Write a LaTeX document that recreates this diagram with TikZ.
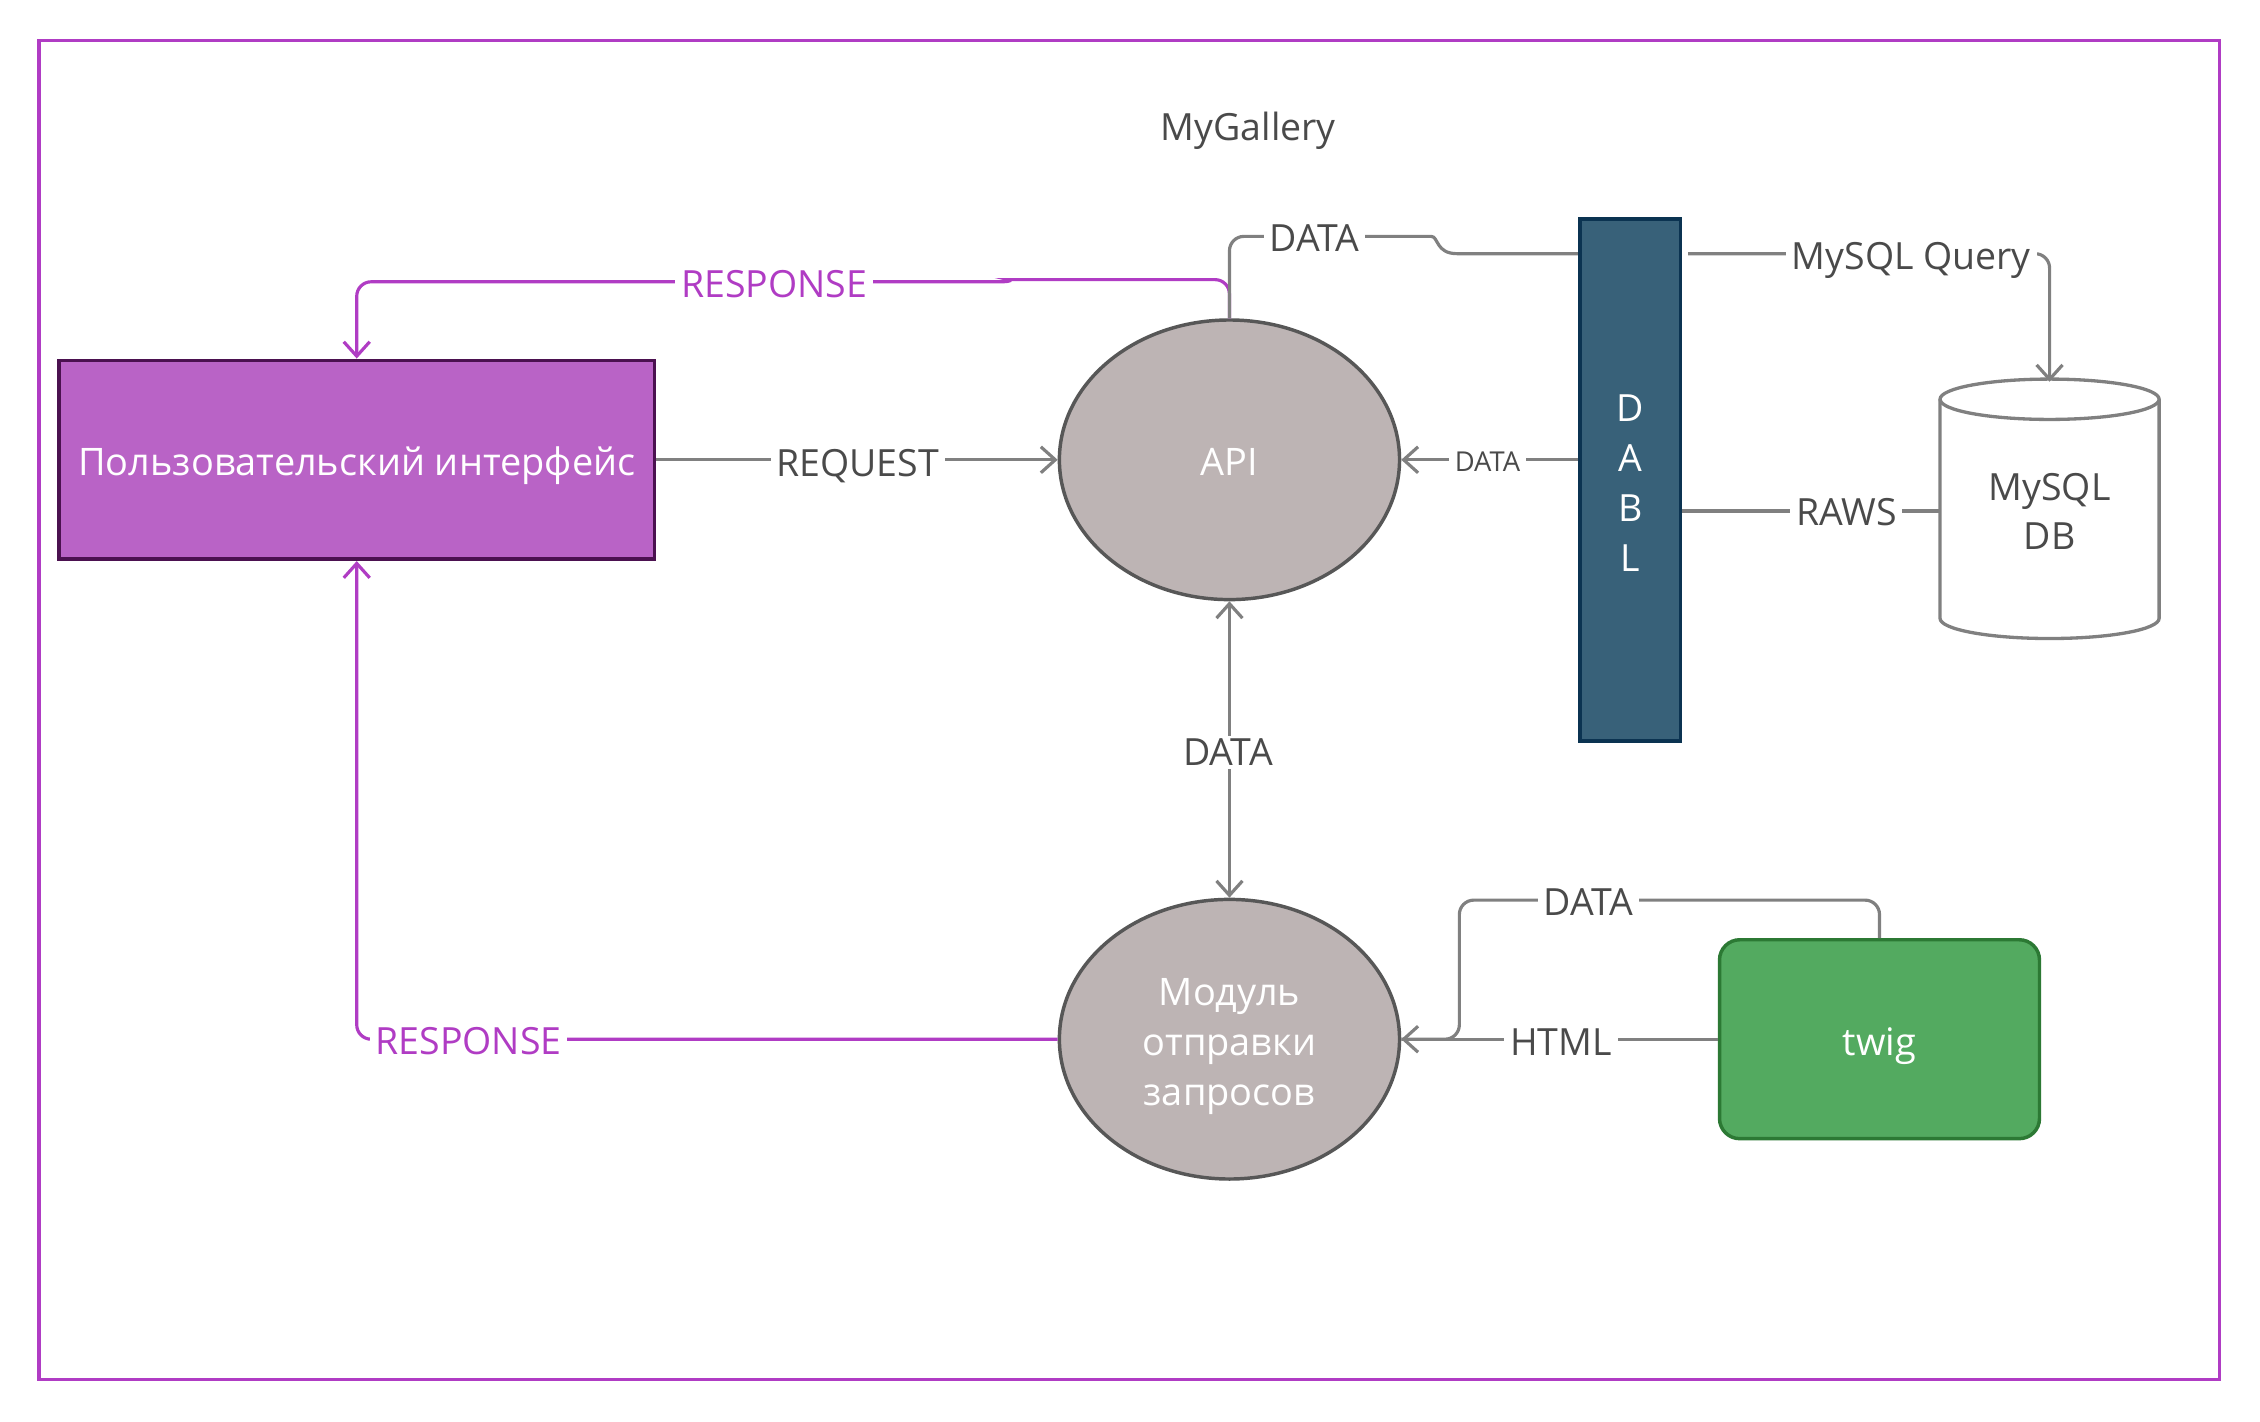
\documentclass[tikz,border=0pt]{standalone}
\usepackage{fontspec}
\setmainfont{Open Sans}
\usetikzlibrary{arrows.meta,shapes.geometric}
\definecolor{gline}{HTML}{808080}
\definecolor{gtext}{HTML}{4A4A4A}
\definecolor{purp}{HTML}{B03CC4}
\definecolor{uifill}{HTML}{B963C6}
\definecolor{uiedge}{HTML}{4B1150}
\definecolor{elfill}{HTML}{BDB4B4}
\definecolor{eledge}{HTML}{575757}
\definecolor{dablfill}{HTML}{386179}
\definecolor{dabledge}{HTML}{0B3351}
\definecolor{twigfill}{HTML}{53AA60}
\definecolor{twigedge}{HTML}{2C7934}
\tikzset{
  bigfont/.style={font=\fontsize{26.3}{34.5}\selectfont},
  onetext/.style={text height=22pt, text depth=0pt},
  uibox/.style={rectangle, draw=uiedge, fill=uifill, line width=2.5pt, minimum width=413pt, minimum height=138pt, inner sep=0pt, text=white, bigfont, onetext},
  proc/.style={ellipse, draw=eledge, fill=elfill, line width=2.4pt, minimum width=236pt, minimum height=194pt, inner sep=0pt, text=white, align=center, bigfont},
  proctext/.style={inner sep=0pt, text=white, align=center, bigfont},
  dablbox/.style={rectangle, draw=dabledge, fill=dablfill, line width=2.5pt, minimum width=70pt, minimum height=362pt, inner sep=0pt},
  dabltext/.style={inner sep=0pt, text=white, align=center, font=\fontsize{26}{34.7}\selectfont},
  twigbox/.style={rectangle, rounded corners=14pt, draw=twigedge, fill=twigfill, line width=2.4pt, minimum width=222pt, minimum height=138pt, inner sep=0pt, text=white, bigfont, onetext},
  dbarea/.style={rectangle, minimum width=152pt, minimum height=179pt, inner sep=0pt, text=gtext, align=center, font=\fontsize{26}{34}\selectfont},
  dbline/.style={draw=gline, line width=2.3pt},
  gconn/.style={draw=gline, line width=2.2pt},
  pconn/.style={draw=purp, line width=2.2pt},
  arr/.style={-{Straight Barb[length=10pt,width=18pt]}},
  lab/.style={fill=white, inner xsep=4pt, inner ysep=2pt, text=gtext, font=\fontsize{26}{30}\selectfont, text height=18.6pt, text depth=0pt},
  plab/.style={lab, text=purp},
  slab/.style={fill=white, inner xsep=4pt, inner ysep=2pt, text=gtext, font=\fontsize{19}{22}\selectfont, text height=13.6pt, text depth=0pt},
  titlelab/.style={text=gtext, font=\fontsize{26}{30}\selectfont}
}
\begin{document}
\begin{tikzpicture}[x=1pt,y=-1pt]
\useasboundingbox (0,0) rectangle (1568,986);
\fill[white] (0,0) rectangle (1568,986);
\draw[purp, line width=2.5pt] (27,28) rectangle (1540,957);

\node[titlelab] (title) at (866,90.5) {MyGallery};

% nodes
\node[uibox] (ui) at (247.5,319) {Пользовательский интерфейс};
\node[proc, onetext] (api) at (853,319) {API};
\node[proc] (mod) at (853,721) {};
\node[proctext] (modtxt) at (853,726) {Модуль\\отправки\\запросов};
\node[dablbox] (dabl) at (1131,333) {};
\node[dabltext] (dabltxt) at (1131,335) {D\\A\\B\\L};
\node[twigbox] (twig) at (1304,721) {twig};

% database cylinder
\draw[dbline, fill=white] (1346,277) -- (1346,429) arc[start angle=180, end angle=0, x radius=76, y radius=14] -- (1498,277);
\draw[dbline, fill=white] (1422,277) ellipse [x radius=76, y radius=14];
\node[dbarea] (db) at (1422,354.5) {MySQL\\DB};

\coordinate (qy) at (1131,176);

% purple connectors
\draw[pconn, arr] (api.north) [rounded corners=10pt] |- (710,194) [sharp corners] .. controls (702,194) and (702,195.5) .. (694,195.5) -- (680,195.5) [rounded corners=10pt] -| (ui.north);
\draw[pconn, arr, rounded corners=10pt] (mod.west) -| (ui.south);

% gray connectors
\draw[gconn, arr] (ui.east) -- (api.west);
\draw[gconn, arr] (dabl.west |- api.east) -- (api.east);
\draw[gconn] (api.north) [rounded corners=10pt] |- (983,164) [sharp corners] .. controls (998,164) and (996,176) .. (1011,176) -- (dabl.west |- qy);
\draw[gconn, arr, rounded corners=10pt, shorten <=4pt] (dabl.east |- qy) -| (db.north);
\draw[gconn] (dabl.east |- db.west) -- (db.west);
\draw[gconn, {Straight Barb[length=10pt,width=18pt]}-{Straight Barb[length=10pt,width=18pt]}] (api.south) -- (mod.north);
\draw[gconn, arr] (twig.west) -- (mod.east);
\draw[gconn, rounded corners=10pt] (twig.north) |- (1012.5,624.5) |- (mod.east);

% labels
\node[plab] (lresp1) at (537,197) {RESPONSE};
\node[plab] (lresp2) at (325,722.5) {RESPONSE};
\node[lab] (lreq) at (595,321.5) {REQUEST};
\node[slab] (ldata1) at (1032,320.5) {DATA};
\node[lab] (ldata2) at (912,165.5) {DATA};
\node[lab] (lquery) at (1326,177.5) {MySQL Query};
\node[lab] (lraws) at (1281,355.5) {RAWS};
\node[lab] (ldata3) at (852,522) {DATA};
\node[lab] (lhtml) at (1083,723) {HTML};
\node[lab] (ldata4) at (1102,626) {DATA};
\end{tikzpicture}
\end{document}
